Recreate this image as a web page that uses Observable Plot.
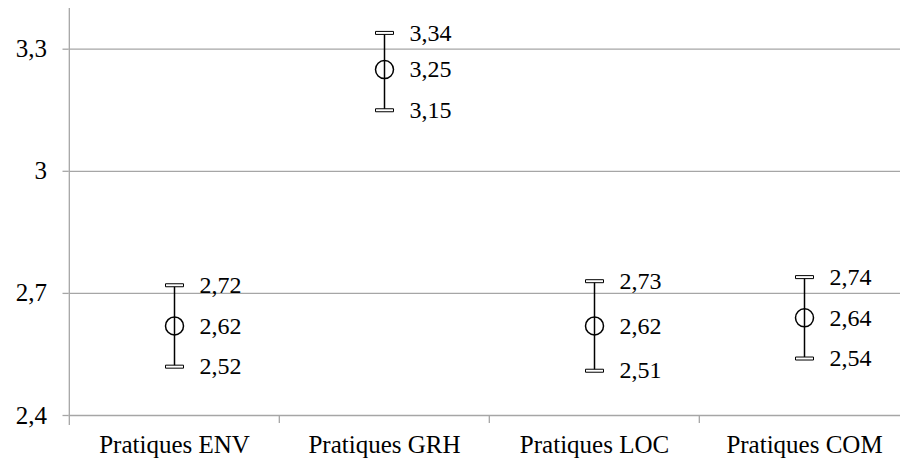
<!DOCTYPE html>
<html>
<head>
<meta charset="utf-8">
<script src="https://cdn.jsdelivr.net/npm/d3@7"></script>
<script src="https://cdn.jsdelivr.net/npm/@observablehq/plot@0.6"></script>
<style>
  html, body { margin: 0; padding: 0; background: #fff; }
  svg { display: block; }
  svg, svg text, svg g { font-family: "Liberation Serif", "Times New Roman", serif !important; }
</style>
</head>
<body>
<div id="chart"></div>
<script>
const categories = ["Pratiques ENV", "Pratiques GRH", "Pratiques LOC", "Pratiques COM"];
const means = [2.62, 3.25, 2.62, 2.64];
const lowers = [2.52, 3.15, 2.51, 2.54];
const uppers = [2.72, 3.34, 2.73, 2.74];
const yTicks = [2.4, 2.7, 3.0, 3.3];
const yTickLabels = ["2,4", "2,7", "3", "3,3"];

const fmt = v => v.toFixed(2).replace(".", ",");
const data = categories.map((c, i) => ({cat: c, mean: means[i], lo: lowers[i], hi: uppers[i]}));

const W = 900, H = 465;
const xRange = [68.5, 910];
const bw = (xRange[1] - xRange[0]) / categories.length;
const grey = "#a6a6a6";
const capSymbol = { draw(ctx) { ctx.rect(-9, -1.5, 18, 3); } };

const chart = Plot.plot({
  width: W,
  height: H,
  marginLeft: 68.5,
  marginRight: 0,
  marginTop: 8,
  marginBottom: 50,
  style: { background: "#fff", color: "#000" },
  x: { type: "band", domain: categories, range: xRange, padding: 0, axis: null },
  y: { domain: [2.4, 3.4], axis: null },
  marks: [
    Plot.ruleY(yTicks, { stroke: grey, strokeWidth: 1.3 }),
    Plot.axisY(yTicks, {
      anchor: "left", tickSize: 6, tickPadding: 16, stroke: grey, strokeWidth: 1.3,
      fill: "#000", fontSize: 25, label: null,
      tickFormat: d => yTickLabels[yTicks.indexOf(d)]
    }),
    // left axis line (extends below the baseline)
    Plot.ruleX([categories[0]], { x: d => d, dx: -bw / 2, stroke: grey, strokeWidth: 1.3, insetBottom: -10 }),
    // category separator ticks
    Plot.ruleX(categories.slice(1), { x: d => d, dx: -bw / 2, y1: 2.4, y2: 2.4, stroke: grey, strokeWidth: 1.3, insetBottom: -8 }),
    Plot.axisX(categories, {
      anchor: "bottom", tickSize: 0, tickPadding: 20, fill: "#000", fontSize: 25, label: null
    }),
    // error bars
    Plot.ruleX(data, { x: "cat", y1: "lo", y2: "hi", stroke: "#000", strokeWidth: 1.5 }),
    Plot.dot(data, { x: "cat", y: "hi", symbol: capSymbol, fill: "#fff", stroke: "#000", strokeWidth: 1 }),
    Plot.dot(data, { x: "cat", y: "lo", symbol: capSymbol, fill: "#fff", stroke: "#000", strokeWidth: 1 }),
    Plot.dot(data, { x: "cat", y: "mean", r: 9, fill: "none", stroke: "#000", strokeWidth: 1.5 }),
    // value labels
    Plot.text(data, { x: "cat", y: "hi", text: d => fmt(d.hi), dx: 25, textAnchor: "start", fontSize: 24, fill: "#000" }),
    Plot.text(data, { x: "cat", y: "mean", text: d => fmt(d.mean), dx: 25, textAnchor: "start", fontSize: 24, fill: "#000" }),
    Plot.text(data, { x: "cat", y: "lo", text: d => fmt(d.lo), dx: 25, textAnchor: "start", fontSize: 24, fill: "#000" })
  ]
});
document.getElementById("chart").appendChild(chart);
</script>
</body>
</html>
